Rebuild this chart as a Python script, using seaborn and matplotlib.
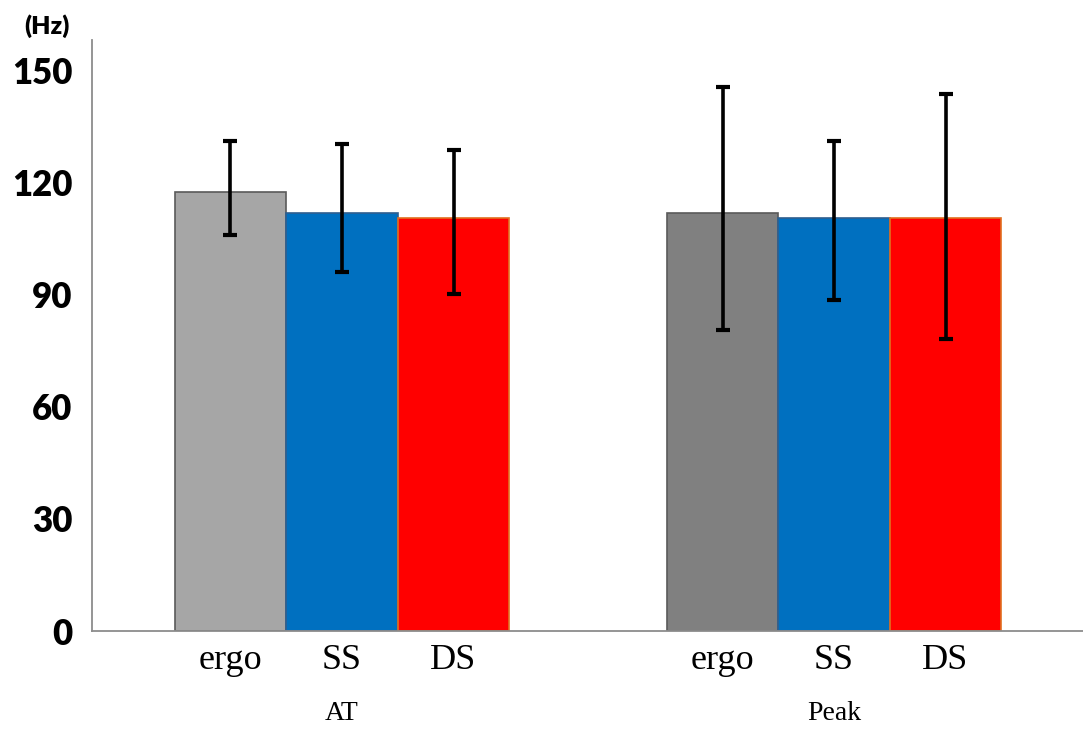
import matplotlib
matplotlib.use("Agg")
import matplotlib.pyplot as plt
import matplotlib.transforms as mtransforms
import seaborn as sns
import pandas as pd
import numpy as np

phases = ["AT", "Peak"]
conditions = ["ergo", "SS", "DS"]
at_means = [117.5, 111.8, 110.4]
peak_means = [111.8, 110.5, 110.5]
at_err_plus = [13.5, 18.4, 18.2]
at_err_minus = [11.7, 15.9, 20.3]
peak_err_plus = [33.6, 20.6, 33.1]
peak_err_minus = [31.4, 22.0, 32.5]
yticks = [0, 30, 60, 90, 120, 150]

df = pd.DataFrame({
    "phase": [p for p in phases for _ in conditions],
    "cond": conditions * len(phases),
    "value": at_means + peak_means,
    "plus": at_err_plus + peak_err_plus,
    "minus": at_err_minus + peak_err_minus,
})

sns.set_style("white")
fig = plt.figure(figsize=(10.83, 7.29), dpi=100)
ax = fig.add_axes([0.085, 0.1344, 0.915, 0.8106])

palette = {"ergo": "#A6A6A6", "SS": "#0070C0", "DS": "#FF0000"}
sns.barplot(data=df, x="phase", y="value", hue="cond", order=phases,
            hue_order=conditions, palette=palette, saturation=1,
            errorbar=None, width=0.68, legend=False, ax=ax)

edge_colors = {"ergo": "#5A5A5A", "SS": "#2F5F8F", "DS": "#E07020"}
tick_pos, tick_lab = [], []
for cond, cont in zip(conditions, ax.containers):
    sub = df[df["cond"] == cond].set_index("phase").loc[phases]
    xs = []
    for patch in cont:
        patch.set_edgecolor(edge_colors[cond])
        patch.set_linewidth(1.2)
        xs.append(patch.get_x() + patch.get_width() / 2)
    if cond == "ergo":
        cont[1].set_facecolor("#808080")
    ax.errorbar(xs, sub["value"].values,
                yerr=[sub["minus"].values, sub["plus"].values],
                fmt="none", ecolor="black", elinewidth=2.6,
                capsize=4.7, capthick=3, zorder=5)
    tick_pos += xs
    tick_lab += [cond] * len(xs)

order = np.argsort(tick_pos)
ax.set_xticks(np.array(tick_pos)[order])
ax.set_xticklabels(np.array(tick_lab)[order], fontfamily="Liberation Serif",
                   fontsize=26, color="black")
ax.tick_params(axis="x", length=0, pad=9)

ax.set_ylim(0, 158)
ax.set_xlim(-0.508, 1.506)
ax.set_yticks(yticks)
ax.set_yticklabels([str(v) for v in yticks], fontfamily="Lato",
                   fontweight="heavy", fontsize=25, color="black")
ax.tick_params(axis="y", length=0, pad=14)

ax.set_xlabel("")
ax.set_ylabel("")
for s in ["top", "right"]:
    ax.spines[s].set_visible(False)
for s in ["left", "bottom"]:
    ax.spines[s].set_color("#8C8C8C")
    ax.spines[s].set_linewidth(1.3)

trans = mtransforms.blended_transform_factory(ax.transData, fig.transFigure)
for i, p in enumerate(phases):
    ax.text(i, (729 - 714) / 729, p, transform=trans, ha="center",
            va="center", fontfamily="Liberation Serif", fontsize=20,
            color="black")

fig.text(47 / 1083, 1 - 26 / 729, "(Hz)", ha="center", va="center",
         fontfamily="Lato", fontweight="heavy", fontsize=18, color="black")

fig.savefig("out.png", dpi=100)
